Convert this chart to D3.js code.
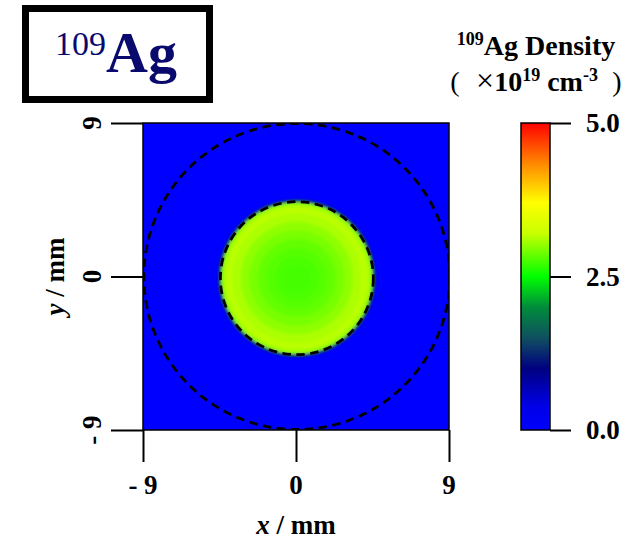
<!DOCTYPE html>
<html>
<head>
<meta charset="utf-8">
<script src="https://cdn.jsdelivr.net/npm/d3@7"></script>
<style>
  body { margin: 0; background: #fff; }
  svg text { font-family: "Liberation Serif", "Times New Roman", serif; }
</style>
</head>
<body>
<div id="chart"></div>
<script>
// tick values / labels
var xTicks = [-9, 0, 9];
var xTickLabels = ["- 9", "0", "9"];
var yTicks = [-9, 0, 9];
var yTickLabels = ["- 9", "0", "9"];
var cbTicks = [0, 2.5, 5.0];
var cbTickLabels = ["0.0", "2.5", "5.0"];

// colour map stops (density, x10^19 cm^-3)
var cmapValues = [0, 0.4, 1.0, 1.5, 2.0, 2.5, 3.2, 3.7, 4.3, 5.0];
var cmapColors = ["#0000ff", "#0000e6", "#000080", "#105060", "#008c3c", "#00ff00", "#c8ff00", "#ffff00", "#ff9000", "#ff0000"];

// radial density profile of the Ag disk (radius in mm -> density)
var ringRadius = [4.65, 4.55, 4.45, 4.2, 3.8, 3.3, 2.8, 2.3, 1.8, 1.3, 0.8];
var ringDensity = [0.9, 1.9, 3.05, 3.15, 3.1, 3.0, 2.92, 2.85, 2.8, 2.76, 2.74];
var diskCenter = [0.05, -0.1];
var backgroundDensity = 0;

// dashed guide circles (radius in mm)
var guideRadius = [9, 4.5];

function init() {
    var W = 638, H = 541;
    var svg = d3.select("#chart").append("svg")
        .attr("width", W).attr("height", H);

    var x = d3.scaleLinear().domain([-9, 9]).range([143, 449]);
    var y = d3.scaleLinear().domain([-9, 9]).range([430, 123]);
    var color = d3.scaleLinear().domain(cmapValues).range(cmapColors).clamp(true);
    var pxPerMm = x(1) - x(0);

    var defs = svg.append("defs");
    defs.append("clipPath").attr("id", "plotClip")
        .append("rect")
        .attr("x", x(-9)).attr("y", y(9))
        .attr("width", x(9) - x(-9)).attr("height", y(-9) - y(9));
    defs.append("filter").attr("id", "soft")
        .attr("x", "-20%").attr("y", "-20%").attr("width", "140%").attr("height", "140%")
        .append("feGaussianBlur").attr("stdDeviation", 1.6);

    // ---- density map ----
    var plot = svg.append("g").attr("clip-path", "url(#plotClip)");
    plot.append("rect")
        .attr("x", x(-9)).attr("y", y(9))
        .attr("width", x(9) - x(-9)).attr("height", y(-9) - y(9))
        .attr("fill", color(backgroundDensity));

    var rings = ringRadius.map(function(r, i) { return { r: r, d: ringDensity[i] }; });
    plot.append("g").attr("filter", "url(#soft)")
        .selectAll("circle").data(rings).enter().append("circle")
        .attr("cx", x(diskCenter[0]))
        .attr("cy", y(diskCenter[1]))
        .attr("r", function(d) { return d.r * pxPerMm; })
        .attr("fill", function(d) { return color(d.d); });

    plot.selectAll("circle.guide").data(guideRadius).enter().append("circle")
        .attr("class", "guide")
        .attr("cx", x(diskCenter[0]))
        .attr("cy", function(d) { return d < 9 ? y(diskCenter[1]) : y(0); })
        .attr("r", function(d) { return d * pxPerMm; })
        .attr("fill", "none")
        .attr("stroke", "#000")
        .attr("stroke-width", 2.8)
        .attr("stroke-dasharray", "8.5,5.5");

    // frame
    svg.append("rect")
        .attr("x", x(-9)).attr("y", y(9))
        .attr("width", x(9) - x(-9)).attr("height", y(-9) - y(9))
        .attr("fill", "none").attr("stroke", "#000").attr("stroke-width", 1.5);

    // ---- axes ----
    var xAxis = svg.append("g")
        .attr("transform", "translate(0," + y(-9) + ")")
        .call(d3.axisBottom(x).tickValues(xTicks).tickSize(32).tickFormat(""));
    var yAxis = svg.append("g")
        .attr("transform", "translate(" + x(-9) + ",0)")
        .call(d3.axisLeft(y).tickValues(yTicks).tickSize(32).tickFormat(""));
    [xAxis, yAxis].forEach(function(a) {
        a.select(".domain").remove();
        a.selectAll(".tick line").attr("stroke", "#000").attr("stroke-width", 2);
    });

    svg.selectAll("text.xtick").data(xTicks).enter().append("text")
        .attr("class", "xtick")
        .attr("x", function(d) { return x(d); })
        .attr("y", 494)
        .attr("text-anchor", "middle")
        .attr("font-size", 27).attr("font-weight", "bold")
        .text(function(d, i) { return xTickLabels[i]; });

    svg.selectAll("text.ytick").data(yTicks).enter().append("text")
        .attr("class", "ytick")
        .attr("transform", function(d) { return "translate(101," + y(d) + ") rotate(-90)"; })
        .attr("text-anchor", "middle")
        .attr("font-size", 27).attr("font-weight", "bold")
        .text(function(d, i) { return yTickLabels[i]; });

    var xTitle = svg.append("text")
        .attr("x", x(0)).attr("y", 534)
        .attr("text-anchor", "middle")
        .attr("font-size", 27).attr("font-weight", "bold");
    xTitle.append("tspan").attr("font-style", "italic").text("x");
    xTitle.append("tspan").text(" / mm");

    var yTitle = svg.append("text")
        .attr("transform", "translate(64," + y(0) + ") rotate(-90)")
        .attr("text-anchor", "middle")
        .attr("font-size", 27).attr("font-weight", "bold");
    yTitle.append("tspan").attr("font-style", "italic").text("y");
    yTitle.append("tspan").text(" / mm");

    // ---- colour bar ----
    var cb = d3.scaleLinear().domain([0, 5]).range([430, 123]);
    var grad = defs.append("linearGradient").attr("id", "cbGrad")
        .attr("x1", 0).attr("y1", 1).attr("x2", 0).attr("y2", 0);
    grad.selectAll("stop").data(cmapValues).enter().append("stop")
        .attr("offset", function(d) { return d / 5; })
        .attr("stop-color", function(d, i) { return cmapColors[i]; });

    svg.append("rect")
        .attr("x", 521).attr("y", cb(5))
        .attr("width", 29).attr("height", cb(0) - cb(5))
        .attr("fill", "url(#cbGrad)")
        .attr("stroke", "#000").attr("stroke-width", 1.5);

    var cbAxis = svg.append("g")
        .attr("transform", "translate(550,0)")
        .call(d3.axisRight(cb).tickValues(cbTicks).tickSize(21).tickFormat(""));
    cbAxis.select(".domain").remove();
    cbAxis.selectAll(".tick line").attr("stroke", "#000").attr("stroke-width", 2);

    svg.selectAll("text.cbtick").data(cbTicks).enter().append("text")
        .attr("class", "cbtick")
        .attr("x", 586)
        .attr("y", function(d) { return cb(d); })
        .attr("dy", "0.35em")
        .attr("font-size", 27).attr("font-weight", "bold")
        .text(function(d, i) { return cbTickLabels[i]; });

    // colour bar title
    var t1 = svg.append("text")
        .attr("x", 536).attr("y", 55)
        .attr("text-anchor", "middle")
        .attr("font-size", 28).attr("font-weight", "bold");
    t1.append("tspan").attr("font-size", 18).attr("dy", -10).text("109");
    t1.append("tspan").attr("dy", 10).text("Ag Density");

    var t2 = svg.append("text")
        .attr("x", 537).attr("y", 91)
        .attr("text-anchor", "middle")
        .attr("font-size", 28).attr("font-weight", "bold");
    t2.append("tspan").attr("font-weight", "normal").attr("font-size", 32).text("\u00d7");
    t2.append("tspan").text("10");
    t2.append("tspan").attr("font-size", 18).attr("dy", -10).text("19");
    t2.append("tspan").attr("dy", 10).text(" cm");
    t2.append("tspan").attr("font-size", 18).attr("dy", -10).text("-3");
    svg.selectAll("text.paren").data([["(", 455], [")", 617]]).enter().append("text")
        .attr("class", "paren")
        .attr("x", function(d) { return d[1]; }).attr("y", 91)
        .attr("text-anchor", "middle")
        .attr("font-size", 28)
        .text(function(d) { return d[0]; });

    // ---- isotope label box ----
    svg.append("rect")
        .attr("x", 25.5).attr("y", 8.5)
        .attr("width", 184).attr("height", 91)
        .attr("fill", "#fff").attr("stroke", "#000").attr("stroke-width", 7);
    var lab = svg.append("text")
        .attr("x", 55).attr("y", 72)
        .attr("fill", "#0a0a6e");
    lab.append("tspan").attr("font-size", 34).attr("dy", -17).text("109");
    lab.append("tspan").attr("font-size", 58).attr("dy", 17)
        .attr("font-weight", "bold").text("Ag");
}
window.onload = init;
</script>
</body>
</html>
